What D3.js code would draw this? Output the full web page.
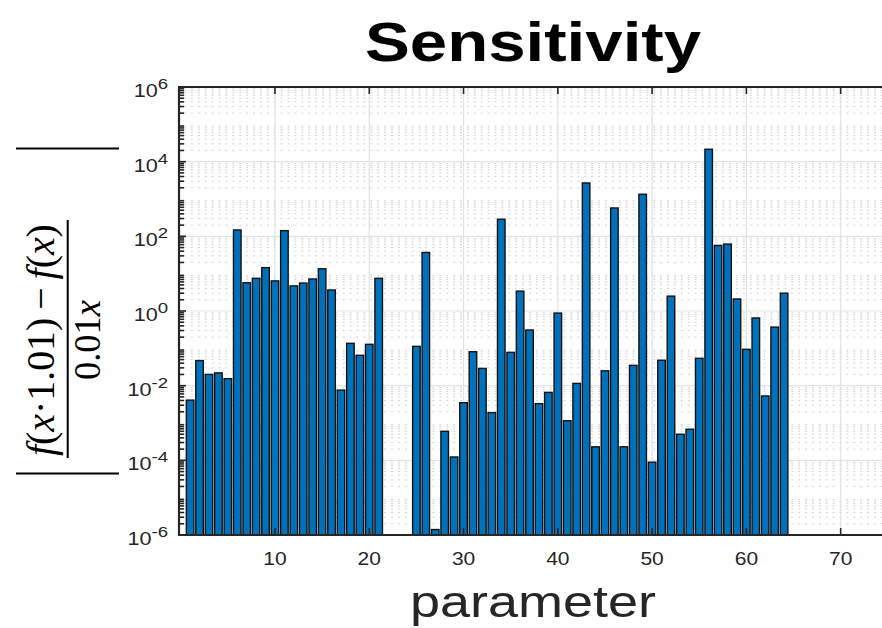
<!DOCTYPE html>
<html>
<head>
<meta charset="utf-8">
<script src="https://cdn.jsdelivr.net/npm/d3@7"></script>
<style>
    body { margin: 0; background: #fff; }
    svg { display: block; }
    .tick-label { font-family: "Liberation Sans", Arial, sans-serif; fill: #262626; }
    .math { font-family: "Liberation Serif", "Times New Roman", serif; fill: #000; }
</style>
</head>
<body>
<div id="chart"></div>
<script>
const width = 882;
const height = 628;
const margins = ({
    top: 87,
    right: -6,
    bottom: 93,
    left: 181
})
// text in the reference is drawn a bit wide
const stretch = 1.2

// parameter index and sensitivity value (null = no bar)
const parameters = d3.range(1, 65)
const sensitivity = [
    0.0041, 0.047, 0.020, 0.022, 0.0154, 148, 5.7, 7.5, 14.5, 6.4,
    142, 4.7, 5.6, 7.2, 13.5, 3.65, 0.0076, 0.136, 0.065, 0.128,
    7.5, null, null, null, 0.113, 37, 1.4e-6, 6.0e-4, 1.23e-4, 0.0035,
    0.081, 0.029, 0.0019, 287, 0.078, 3.4, 0.31, 0.0033, 0.0066, 0.88,
    0.00115, 0.0115, 2690, 2.3e-4, 0.025, 575, 2.3e-4, 0.035, 1340, 8.9e-5,
    0.048, 2.5, 5.0e-4, 6.8e-4, 0.054, 21500, 57, 62, 2.1, 0.094,
    0.65, 0.0053, 0.37, 3.0
]
const xTicks = [10, 20, 30, 40, 50, 60, 70]
const yTickExponents = [-6, -4, -2, 0, 2, 4, 6]
const xDomain = [0, 75]
const yDomain = [1e-6, 1e6]

const svg = d3.select("#chart")
    .append("svg")
    .attr("width", width)
    .attr("height", height)

const x = d3.scaleLinear()
    .domain(xDomain)
    .range([180.7, 180.7 + 75 * 9.428])
const y = d3.scaleLog()
    .domain(yDomain)
    .range([height - margins.bottom + 0, margins.top])
const plotLeft = 179
const plotRight = width + 10
const plotTop = y(1e6)
const plotBottom = y(1e-6)

// minor grid (dotted) and major grid
const minorValues = []
for (let e = -6; e < 6; e++) {
    for (let m = 2; m <= 9; m++) minorValues.push(m * Math.pow(10, e))
}
svg.append("g")
    .selectAll("line")
    .data(minorValues)
    .enter()
    .append("line")
    .attr("x1", plotLeft)
    .attr("x2", plotRight)
    .attr("y1", d => y(d))
    .attr("y2", d => y(d))
    .style("stroke", "#d4d4d4")
    .style("stroke-width", 1)
    .style("stroke-dasharray", "2,4.9")
    .style("stroke-dashoffset", -5)

svg.append("g")
    .selectAll("line")
    .data(yTickExponents)
    .enter()
    .append("line")
    .attr("x1", plotLeft)
    .attr("x2", plotRight)
    .attr("y1", d => y(Math.pow(10, d)))
    .attr("y2", d => y(Math.pow(10, d)))
    .style("stroke", "#e3e3e3")
    .style("stroke-width", 1.2)

svg.append("g")
    .selectAll("line")
    .data(xTicks)
    .enter()
    .append("line")
    .attr("x1", d => x(d))
    .attr("x2", d => x(d))
    .attr("y1", plotTop)
    .attr("y2", plotBottom)
    .style("stroke", "#e3e3e3")
    .style("stroke-width", 1.2)

// bars
const barData = parameters
    .map((p, i) => ({ p: p, v: sensitivity[i] }))
    .filter(d => d.v != null)
const barWidth = x(0.8) - x(0)
svg.append("g")
    .selectAll("rect")
    .data(barData)
    .enter()
    .append("rect")
    .attr("x", d => x(d.p) - barWidth / 2)
    .attr("width", barWidth)
    .attr("y", d => y(d.v))
    .attr("height", d => plotBottom - y(d.v))
    .style("fill", "#0072BD")
    .style("stroke", "#111")
    .style("stroke-width", 1.4)

// axes box: left, top, bottom
const axisColor = "#262626"
svg.append("line").attr("x1", plotLeft).attr("x2", plotLeft).attr("y1", plotTop - 1).attr("y2", plotBottom + 1)
    .style("stroke", axisColor).style("stroke-width", 2.2)
svg.append("line").attr("x1", plotLeft).attr("x2", plotRight).attr("y1", plotTop).attr("y2", plotTop)
    .style("stroke", axisColor).style("stroke-width", 2.2)
svg.append("line").attr("x1", plotLeft).attr("x2", plotRight).attr("y1", plotBottom).attr("y2", plotBottom)
    .style("stroke", axisColor).style("stroke-width", 2.2)

// left ticks
svg.append("g")
    .selectAll("line")
    .data(minorValues)
    .enter()
    .append("line")
    .attr("x1", plotLeft)
    .attr("x2", plotLeft + 5)
    .attr("y1", d => y(d))
    .attr("y2", d => y(d))
    .style("stroke", axisColor)
    .style("stroke-width", 1.6)
svg.append("g")
    .selectAll("line")
    .data(yTickExponents)
    .enter()
    .append("line")
    .attr("x1", plotLeft)
    .attr("x2", plotLeft + 7)
    .attr("y1", d => y(Math.pow(10, d)))
    .attr("y2", d => y(Math.pow(10, d)))
    .style("stroke", axisColor)
    .style("stroke-width", 1.6)

// top and bottom ticks
xTicks.forEach(t => {
    svg.append("line").attr("x1", x(t)).attr("x2", x(t)).attr("y1", plotTop).attr("y2", plotTop + 7)
        .style("stroke", axisColor).style("stroke-width", 1.6)
    svg.append("line").attr("x1", x(t)).attr("x2", x(t)).attr("y1", plotBottom).attr("y2", plotBottom - 7)
        .style("stroke", axisColor).style("stroke-width", 1.6)
})

// x tick labels
svg.append("g")
    .selectAll("text")
    .data(xTicks)
    .enter()
    .append("text")
    .attr("class", "tick-label")
    .attr("text-anchor", "middle")
    .attr("transform", d => `translate(${x(d)},${plotBottom + 30}) scale(${stretch},1)`)
    .style("font-size", "17.5px")
    .text(d => d)

// y tick labels 10^n
yTickExponents.forEach(e => {
    let label = svg.append("text")
        .attr("class", "tick-label")
        .attr("text-anchor", "end")
        .attr("transform", `translate(168,${y(Math.pow(10, e)) + 10}) scale(${stretch},1)`)
        .style("font-size", "18px")
    label.append("tspan").text("10")
    label.append("tspan")
        .attr("dy", -8)
        .style("font-size", "15.5px")
        .text(e)
})

// title and x label
svg.append("text")
    .attr("text-anchor", "middle")
    .attr("transform", `translate(533,61) scale(${stretch},1)`)
    .style("font-family", "'Liberation Sans', Arial, sans-serif")
    .style("font-weight", "bold")
    .style("font-size", "56px")
    .style("fill", "#000")
    .text("Sensitivity")

svg.append("text")
    .attr("text-anchor", "middle")
    .attr("transform", `translate(533,617) scale(${stretch},1)`)
    .style("font-family", "'Liberation Sans', Arial, sans-serif")
    .style("font-size", "45px")
    .style("fill", "#262626")
    .text("parameter")

// y label: |(f(x·1.01) − f(x)) / 0.01x|, rotated
const labelCenterY = 340
svg.append("line").attr("x1", 16).attr("x2", 119).attr("y1", 148.5).attr("y2", 148.5)
    .style("stroke", "#000").style("stroke-width", 2)
svg.append("line").attr("x1", 16).attr("x2", 119).attr("y1", 473.5).attr("y2", 473.5)
    .style("stroke", "#000").style("stroke-width", 2)
svg.append("line").attr("x1", 67.7).attr("x2", 67.7).attr("y1", 220).attr("y2", 458)
    .style("stroke", "#000").style("stroke-width", 2)

function addMathText(parts, baselineX, targetLength, size) {
    let g = svg.append("g")
    let t = g.append("text")
        .attr("class", "math")
        .attr("text-anchor", "start")
        .style("font-size", `${size}px`)
    parts.forEach(p => {
        t.append("tspan")
            .style("font-style", p[1] ? "italic" : "normal")
            .text(p[0])
    })
    let natural = t.node().getComputedTextLength()
    let sx = targetLength / natural
    t.attr("x", -natural / 2)
    g.attr("transform", `translate(${baselineX},${labelCenterY}) rotate(-90) scale(${sx},${stretch})`)
}

addMathText([["f", true], ["(", false], ["x", true], ["\u00b71.01)\u2009\u2212\u2009", false], ["f", true], ["(", false], ["x", true], [")", false]], 54, 232, 33)
addMathText([["0.01", false], ["x", true]], 99.5, 80, 32)
</script>
</body>
</html>
